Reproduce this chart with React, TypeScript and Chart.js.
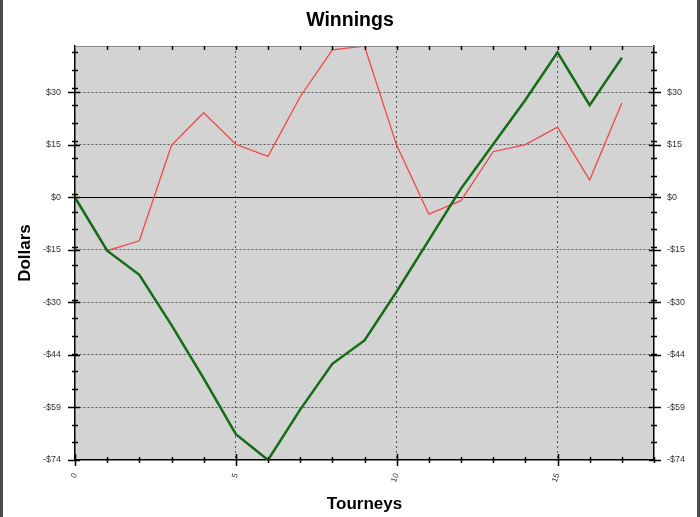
import React, { useEffect, useRef } from "react";
import { Chart, registerables } from "chart.js";

Chart.register(...registerables);

// ---- data ----
const tourneys = [0, 1, 2, 3, 4, 5, 6, 7, 8, 9, 10, 11, 12, 13, 14, 15, 16, 17];
const greenSeries = [0, -15, -21.8, -36, -51, -66.7, -74, -59.8, -46.9, -40.3, -26.5, -12, 2.5, 15, 27.5, 40.9, 26, 39.4];
const redSeries = [0, -15, -12.2, 14.7, 23.9, 15, 11.6, 28.4, 41.6, 42.7, 14.7, -4.7, -0.9, 12.9, 14.9, 19.8, 4.9, 26.6];

const yTickValues = [-74, -59.2, -44.4, -29.6, -14.8, 0, 14.8, 29.6];
const yTickLabels = ["-$74", "-$59", "-$44", "-$30", "-$15", "$0", "$15", "$30"];
const yMin = -74;
const yMax = 42.7;
const yMinorStep = 5;

const xMin = 0;
const xMax = 18;
const xLabelValues = [0, 5, 10, 15];
const xTickLabels = ["0", "5", "10", "15"];

const FONT = 'Arial, "Liberation Sans", sans-serif';

const decorPlugin = {
  id: "decor",
  beforeDraw(chart: any) {
    const { ctx, chartArea: a, width, height } = chart;
    ctx.save();
    ctx.fillStyle = "#ffffff";
    ctx.fillRect(0, 0, width, height);
    ctx.fillStyle = "#d3d3d3";
    ctx.fillRect(a.left, a.top, a.right - a.left, a.bottom - a.top);
    // outer frame bars
    ctx.fillStyle = "#4a4a4a";
    ctx.fillRect(0, 0, 3, height);
    ctx.fillRect(width - 3, 0, 3, height);
    ctx.restore();
  },
  afterDraw(chart: any) {
    const { ctx, chartArea: a } = chart;
    const xs = chart.scales.x;
    const ys = chart.scales.y;
    ctx.save();
    // top border
    ctx.strokeStyle = "#8a8a8a";
    ctx.lineWidth = 1;
    ctx.beginPath();
    ctx.moveTo(a.left, a.top + 0.5);
    ctx.lineTo(a.right, a.top + 0.5);
    ctx.stroke();

    ctx.strokeStyle = "#000";
    ctx.lineWidth = 1.5;
    ctx.beginPath();
    // x ticks
    for (const t of xs.ticks) {
      const v = t.value;
      const px = Math.round(xs.getPixelForValue(v)) + 0.5;
      const major = v % 5 === 0;
      const len = major ? 6 : 3;
      ctx.moveTo(px, a.bottom - len);
      ctx.lineTo(px, a.bottom + len);
      if (v > xMin && v < xMax) {
        ctx.moveTo(px, a.top);
        ctx.lineTo(px, a.top + 4);
      }
    }
    // y major ticks
    for (const v of yTickValues) {
      const py = Math.round(ys.getPixelForValue(v)) + 0.5;
      ctx.moveTo(a.left - 7, py);
      ctx.lineTo(a.left + 5, py);
      ctx.moveTo(a.right - 5, py);
      ctx.lineTo(a.right + 7, py);
    }
    // y minor ticks
    for (let v = yMin + yMinorStep; v <= yMax; v += yMinorStep) {
      const py = Math.round(ys.getPixelForValue(v)) + 0.5;
      ctx.moveTo(a.left - 3, py);
      ctx.lineTo(a.left + 3, py);
      ctx.moveTo(a.right - 3, py);
      ctx.lineTo(a.right + 3, py);
    }
    ctx.stroke();
    ctx.restore();
  },
};

export default function App() {
  const ref = useRef<HTMLCanvasElement | null>(null);

  useEffect(() => {
    document.body.style.margin = "0";
    const canvas = ref.current;
    if (!canvas) return;

    const yTicksSetter = (scale: any) => {
      scale.ticks = yTickValues.map((v) => ({ value: v }));
    };

    const chart = new Chart(canvas, {
      type: "line",
      data: {
        datasets: [
          {
            label: "Green",
            data: tourneys.map((t, i) => ({ x: t, y: greenSeries[i] })),
            borderColor: "#146c14",
            borderWidth: 2.5,
            pointRadius: 0,
            tension: 0,
          },
          {
            label: "Red",
            data: tourneys.map((t, i) => ({ x: t, y: redSeries[i] })),
            borderColor: "#f04848",
            borderWidth: 1.3,
            pointRadius: 0,
            tension: 0,
          },
        ],
      },
      options: {
        responsive: false,
        maintainAspectRatio: false,
        animation: false,
        devicePixelRatio: 1,
        layout: { padding: 0 },
        plugins: {
          legend: { display: false },
          tooltip: { enabled: false },
          title: {
            display: true,
            text: "Winnings",
            color: "#000",
            font: { family: FONT, size: 19.5, weight: "bold", lineHeight: 1.2 },
            padding: { top: 8.8, bottom: 13.8 },
          },
        },
        scales: {
          x: {
            type: "linear",
            position: "bottom",
            min: xMin,
            max: xMax,
            afterFit: (s: any) => {
              s.height = 57;
            },
            ticks: {
              stepSize: 1,
              autoSkip: false,
              minRotation: 70,
              maxRotation: 70,
              padding: 12,
              color: "#333",
              font: { family: FONT, size: 8 },
              callback: (value: any) => {
                const i = xLabelValues.indexOf(Number(value));
                return i >= 0 ? xTickLabels[i] : "";
              },
            },
            grid: {
              drawTicks: false,
              lineWidth: 1,
              color: (c: any) => {
                const v = c.tick ? c.tick.value : -1;
                return v % 5 === 0 && v > xMin && v < xMax ? "#555" : "transparent";
              },
            },
            border: { display: true, color: "#000", width: 1.5, dash: [2, 3] },
            title: {
              display: true,
              text: "Tourneys",
              color: "#000",
              font: { family: FONT, size: 17, weight: "bold", lineHeight: 1.2 },
              padding: { top: 0, bottom: 2.7 },
            },
          },
          y: {
            type: "linear",
            position: "left",
            min: yMin,
            max: yMax,
            afterBuildTicks: yTicksSetter,
            afterFit: (s: any) => {
              s.width = 75;
            },
            ticks: {
              padding: 14,
              color: "#333",
              font: { family: FONT, size: 9 },
              callback: (_v: any, i: number) => yTickLabels[i],
            },
            grid: {
              drawTicks: false,
              lineWidth: 1,
              color: (c: any) => {
                const v = c.tick ? c.tick.value : null;
                if (v === yMin) return "transparent";
                return v === 0 ? "#000" : "#555";
              },
            },
            border: {
              display: true,
              color: "#000",
              width: 1.5,
              dash: (c: any) => (c.tick && c.tick.value === 0 ? [] : [2, 2]),
            },
            title: {
              display: true,
              text: "Dollars",
              color: "#000",
              font: { family: FONT, size: 17, weight: "bold", lineHeight: 1.2 },
              padding: { top: 14.8, bottom: 0 },
            },
          },
          y2: {
            type: "linear",
            position: "right",
            min: yMin,
            max: yMax,
            afterBuildTicks: yTicksSetter,
            afterFit: (s: any) => {
              s.width = 46;
            },
            ticks: {
              padding: 13,
              color: "#333",
              font: { family: FONT, size: 9 },
              callback: (_v: any, i: number) => yTickLabels[i],
            },
            grid: { drawTicks: false, drawOnChartArea: false },
            border: { display: true, color: "#000", width: 1.5 },
          },
        },
      } as any,
      plugins: [decorPlugin],
    });

    return () => chart.destroy();
  }, []);

  return (
    <div style={{ width: 700, height: 517 }}>
      <canvas ref={ref} width={700} height={517} style={{ display: "block" }} />
    </div>
  );
}
